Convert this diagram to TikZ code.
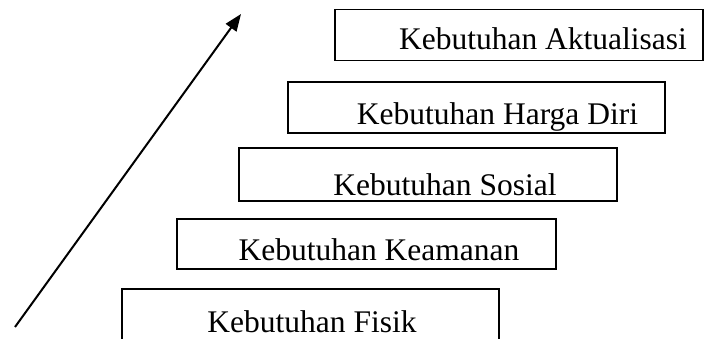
\documentclass[tikz,border=0pt]{standalone}
\usepackage{fontspec}
\setmainfont{Liberation Serif}
\usetikzlibrary{arrows.meta}

\begin{document}
\begin{tikzpicture}[x=1pt, y=-1pt, >={Triangle[length=17pt, width=13pt]},
  kotak/.style={draw, line width=1.5pt, inner sep=0pt, minimum height=51pt},
  teks/.style={anchor=base, inner sep=0pt, font=\fontsize{31.5}{36}\selectfont}]
  \clip (0,0) rectangle (705,338);
  % tangga kebutuhan
  \node[kotak, minimum width=368pt] (aktual) at (519,35) {};
  \node[teks] (aktual-t) at (543,49) {Kebutuhan Aktualisasi};
  \node[kotak, minimum width=377pt] (harga) at (476.5,107.5) {};
  \node[teks] (harga-t) at (497.5,124) {Kebutuhan Harga Diri};
  \node[kotak, minimum width=378pt, minimum height=53pt] (sosial) at (428,174.5) {};
  \node[teks] (sosial-t) at (445,195) {Kebutuhan Sosial};
  \node[kotak, minimum width=379pt, minimum height=50pt] (aman) at (366.5,244) {};
  \node[teks] (aman-t) at (379,260) {Kebutuhan Keamanan};
  \node[kotak, minimum width=377pt] (fisik) at (310.5,314.5) {};
  \node[teks] (fisik-t) at (312,332) {Kebutuhan Fisik};
  % panah naik
  \coordinate (awal) at (15,327);
  \coordinate (ujung) at (241,14);
  \draw[->, line width=2pt] (awal) -- (ujung);
\end{tikzpicture}
\end{document}
